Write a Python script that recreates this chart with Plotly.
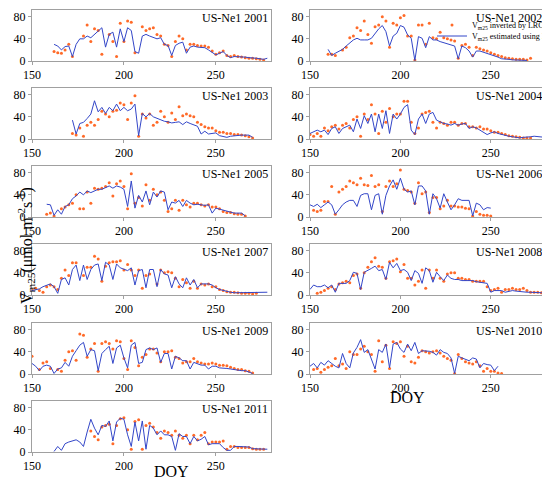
import plotly.graph_objects as go

# Vm25 series, one value every 2 days starting at first_doy[year]
# lrc = inverted by LRC (points), rf = estimated using RF (line)
first_doy = {2001: 162, 2002: 160, 2003: 172, 2004: 150, 2005: 158, 2006: 150,
             2007: 150, 2008: 150, 2009: 150, 2010: 150, 2011: 162}

rf_2001 = [30, 27, 20, 26, 27, 8, 30, 40, 40, 45, 42, 48, 55, 60, 25, 48, 52, 25, 58, 35,
           60, 55, 17, 14, 45, 48, 45, 42, 40, 42, 30, 28, 10, 28, 32, 34, 14, 25, 27, 25,
           25, 24, 20, 15, 11, 14, 17, 10, 6, 8, 8, 7, 7, 6, 6, 5, 4, 3, 5]
lrc_2001 = [17, 15, 14, 20, 30, 8, None, None, 45, 65, 35, 58, 55, 12, None, 48, 35, 8, 68, 35,
            72, 70, 15, None, 62, 55, 58, 60, 48, 45, 30, 28, 8, 35, 45, 40, 20, 30, 30, 28,
            27, 27, 25, 18, 12, 15, 18, 10, 8, 10, 8, 7, 6, 5, 5, 4, 3, 2, None]

rf_2002 = [21, 10, 14, 18, 21, 27, 32, 38, 41, 38, 38, 38, 41, 50, 58, 64, 53, 27, 45, 50,
           64, 61, 47, 41, 1, 44, 41, 24, 44, 38, 38, 35, 33, 30, 28, 27, 4, 27, 24, 18,
           7, 18, 18, 16, 14, 12, 10, 7, 4, 4, 3, 2, 2, 2, 2, 1, None]
lrc_2002 = [12, 12, 10, None, 20, 25, 42, 45, 60, 55, 72, 48, 32, 62, 65, 80, 72, 25, 68, 65,
            78, 82, 45, 45, 2, 65, 65, 30, 68, 42, 40, 52, 42, 40, 38, 36, 5, 28, 30, 25,
            10, 25, 22, 20, 18, 15, 12, 10, 8, 6, 5, 4, 3, 3, 3, 2, 5]

rf_2003 = [34, 9, 28, 30, 37, 45, 69, 49, 57, 46, 57, 51, 63, 51, 57, 51, 54, 63, 6, 46,
           40, 46, 40, 37, 34, 32, 31, 29, 30, 31, 26, 31, 28, 26, 23, 9, 14, 9, 10, 11,
           6, 4, 3, 5, 6, 7, 7, 7, 7, 3]
lrc_2003 = [10, 7, 20, 5, 25, 30, 25, 35, 50, 45, 40, 50, 52, 65, 62, 35, 65, 78, 5, 45,
            38, 45, 25, 30, 50, 40, 30, 47, 35, 58, 42, 45, 42, 40, 30, 26, 22, 20, 20, 15,
            12, 12, 10, 10, 8, 8, 7, 6, 4, 2]

rf_2004 = [10, 13, 16, 13, 16, 8, 19, 22, 10, 19, 22, 25, 13, 36, 19, 42, 28, 45, 13, 45,
           19, 51, 10, 45, 36, 45, 57, 62, 16, 8, 36, 45, 28, 45, 48, 34, 31, 28, 27, 25,
           28, 25, 27, 28, 19, 22, 20, 16, 13, 8, 11, 13, 10, 8, 7, 5, 4, 3, 2, 3,
           3, 4, 5, 4, 3, 3]
lrc_2004 = [8, 5, 10, 5, 20, 15, 22, 25, 18, 25, 28, 20, 35, 40, 5, 45, 35, 62, 45, 10,
            50, 30, 55, 40, 45, 45, 68, 68, 30, 10, 20, 45, 48, 50, 30, 20, 30, 28, 25, 30,
            30, 25, 28, 28, 22, 22, 20, 22, 18, 18, 15, 12, 12, 10, 8, 6, 5, 4, 3, 2,
            2, 2, None, None, None, None]

rf_2005 = [23, 22, 3, 13, 5, 19, 22, 33, 38, 45, 40, 47, 44, 47, 50, 50, 53, 56, 52, 56,
           54, 50, 19, 65, 16, 39, 27, 47, 22, 45, 36, 47, 45, 13, 27, 25, 30, 19, 30, 25,
           22, 23, 22, 21, 22, 7, 16, 14, 13, 10, 9, 7, 7, 7, 2]
lrc_2005 = [5, 7, 2, None, 15, 18, 22, 25, 40, 15, 15, 45, 25, 52, 50, 52, 55, 62, 38, 60,
            65, 55, 15, 78, 25, 35, 20, 58, 30, 50, 40, 45, 30, 10, 15, 30, 12, 30, 22, 18,
            25, 25, 22, 20, 22, 18, 18, 15, 10, 8, 8, 6, 5, 5, 2]

rf_2006 = [22, 19, 23, 17, 22, 27, 22, 5, 13, 22, 27, 30, 30, 19, 39, 42, 42, 13, 39, 42,
           5, 39, 56, 67, 50, 70, 50, 45, 47, 22, 56, 56, 47, 5, 42, 33, 16, 42, 27, 13,
           22, 33, 30, 30, 30, 2, 25, 22, 13, 17, 16]
lrc_2006 = [None, 12, 10, 12, 28, 28, 55, 5, 45, 50, 55, 65, 62, 58, 70, 58, 57, 75, 55, 58,
            10, 55, 65, 55, 60, 85, 50, 48, 45, 25, 62, 42, 45, 8, 35, 35, 15, 20, 30, 20,
            20, 18, 18, 16, 15, 2, 10, 5, 3, 3, 2]

rf_2007 = [8, 9, 11, 15, 18, 20, 15, 3, 28, 31, 18, 46, 54, 26, 54, 28, 46, 54, 56, 26,
           59, 54, 28, 56, 49, 46, 44, 49, 18, 44, 46, 13, 46, 46, 15, 46, 38, 36, 13, 33,
           20, 13, 31, 18, 28, 13, 20, 20, 20, 18, 13, 10, 8, 6, 5, 4, 4, 4, 4, 4,
           4, 5, 5, 5, 5]
lrc_2007 = [10, 12, 8, 5, 15, 18, 15, 10, 30, 45, 35, 58, 58, None, 35, 50, 50, 70, 65, 25,
            52, 58, 60, 60, 62, 45, 55, 45, 35, 45, 12, 35, 38, None, 20, 45, 40, 42, 40, 30,
            15, 28, 22, 12, 25, 12, 20, 18, 20, 15, 15, 10, 8, 6, 5, 5, 4, 3, 3, 3,
            2, 3, None, None, None]

rf_2008 = [10, 18, 15, 15, 18, 13, 18, 5, 21, 21, 21, 26, 41, 39, 10, 41, 44, 48, 52, 44,
           46, 28, 59, 49, 57, 44, 46, 41, 26, 44, 39, 21, 49, 44, 23, 41, 33, 26, 36, 30,
           28, 28, 26, 26, 26, 26, 24, 23, 22, 21, 5, 8, 8, 8, 5, 7, 8, 7, 6, 6,
           5, 5, 5, 4, 4, 3]
lrc_2008 = [None, None, 3, 5, 8, 12, 15, 10, 20, 22, 25, 22, 35, 38, 12, 40, 50, 60, 67, 52,
            50, 30, 60, 62, 65, 42, 55, 30, 30, 18, 25, 45, 12, 45, 30, 45, 30, 25, 38, 40,
            40, 30, 30, 28, 28, 25, 25, 25, 25, 15, 8, 10, 12, 5, 10, 10, 12, 10, 10, 12,
            8, 5, 5, 5, 4, 3]

rf_2009 = [19, 14, 6, 14, 16, 14, 1, 9, 11, 21, 14, 32, 42, 52, 57, 32, 44, 42, 6, 37,
           44, 50, 19, 47, 52, 29, 11, 52, 57, 19, 21, 44, 47, 44, 47, 21, 37, 37, 9, 32,
           29, 24, 24, 9, 21, 18, 16, 16, 9, 14, 14, 11, 11, 10, 9, 8, 6, 6, 6, 3, 1]
lrc_2009 = [32, None, 8, 20, 22, 10, None, 8, 5, 25, 40, 42, 25, 72, 70, 30, 45, 55, 5, 55,
            58, 55, 45, 60, 58, 28, 8, 60, 48, 15, 30, 35, 45, 45, 38, 22, 40, 40, 42, 30,
            28, 20, 22, 22, 28, 22, 20, 18, 18, 20, 18, 16, 16, 15, 12, 10, 8, 8, 6, 5, 2]

rf_2010 = [14, 19, 11, 21, 16, 24, 19, 14, 11, 37, 19, 11, 38, 48, 62, 39, 44, 27, 9, 44,
           39, 54, 11, 54, 57, 45, 39, 54, 42, 57, 37, 42, 42, 41, 39, 34, 44, 39, 37, 29,
           1, 32, 29, 26, 24, 29, 27, 11, 19, 17, 16, 6, 14]
lrc_2010 = [None, 8, 10, 3, 8, 12, 15, 28, 15, 18, 10, 40, 35, 35, 45, 50, 40, 35, 5, 60,
            22, 52, 10, 58, 55, 58, 32, 50, 22, 20, 30, 42, 40, 38, 40, 42, 38, 32, 28, 25,
            1, 35, 28, 22, 20, 18, 22, 15, 5, 10, 5, 5, 2, 1]

rf_2011 = [1, 10, 3, 15, 18, 20, 22, 18, 10, 36, 59, 43, 31, 48, 46, 56, 20, 54, 61, 59,
           31, 10, 54, 20, 56, 5, 48, 43, 31, 38, 31, 31, 28, 3, 33, 28, 28, 15, 28, 20,
           23, 28, 13, 15, 15, 15, 8, 3, 3, 10, 10, 10, 9, 9, 6, 6, 6, 5, 5]
lrc_2011 = [None, None, None, None, None, None, None, None, None, None, 38, 28, 22, 45, 48, 50, 15, 48, 60, 62,
            40, 5, 55, 58, 5, 48, 52, 45, 35, 25, 38, 35, 30, 38, 30, 25, 30, 15, 30, 22,
            30, 35, 15, 18, 18, 18, 20, 5, 10, 10, 8, 8, 8, 8, 6, 5, 5, 5, None]

series = {2001: (lrc_2001, rf_2001), 2002: (lrc_2002, rf_2002), 2003: (lrc_2003, rf_2003),
          2004: (lrc_2004, rf_2004), 2005: (lrc_2005, rf_2005), 2006: (lrc_2006, rf_2006),
          2007: (lrc_2007, rf_2007), 2008: (lrc_2008, rf_2008), 2009: (lrc_2009, rf_2009),
          2010: (lrc_2010, rf_2010), 2011: (lrc_2011, rf_2011)}

left_years = [2001, 2003, 2005, 2007, 2009, 2011]
right_years = [2002, 2004, 2006, 2008, 2010]
x_ticks = [150, 200, 250]
y_ticks = [0, 40, 80]

# the page body adds an 8px margin, so the figure is laid out in window pixels minus 8
OFF = 8
W, H = 550 - OFF, 489 - OFF
ORANGE = '#ff6a28'
BLUE = '#3346c8'
FONT = 'Liberation Serif'
row_tops = [10, 88, 166, 244, 323, 401]   # window pixels
panel_h = 51
col_x = {'L': (32, 271), 'R': (310, 545)}


def px(v):
    return (v - OFF) / W


def py(v):
    return 1 - (v - OFF) / H


fig = go.Figure()
panels = [(y, 'L', i) for i, y in enumerate(left_years)] + [(y, 'R', i) for i, y in enumerate(right_years)]

for n, (year, col, row) in enumerate(panels, start=1):
    lrc, rf = series[year]
    doy_l = [first_doy[year] + 2 * k for k in range(len(lrc))]
    doy_r = [first_doy[year] + 2 * k for k in range(len(rf))]
    xa = 'x' if n == 1 else f'x{n}'
    ya = 'y' if n == 1 else f'y{n}'
    show = year == 2002
    fig.add_trace(go.Scatter(x=doy_l, y=lrc, mode='markers', xaxis=xa, yaxis=ya,
                             marker=dict(color=ORANGE, size=3), legend='legend',
                             name='V<sub>m25</sub> inverted by LRC', showlegend=show))
    fig.add_trace(go.Scatter(x=doy_r, y=rf, mode='lines', xaxis=xa, yaxis=ya,
                             line=dict(color=BLUE, width=1), legend='legend2',
                             name='V<sub>m25</sub> estimated using RF', showlegend=show))

    x0, x1 = col_x[col]
    top = row_tops[row]
    xkey = 'xaxis' if n == 1 else f'xaxis{n}'
    ykey = 'yaxis' if n == 1 else f'yaxis{n}'
    axis_common = dict(showline=True, mirror=True, linecolor='#a0a0a0', linewidth=1,
                       showgrid=False, zeroline=False, ticks='outside', ticklen=3,
                       tickcolor='#a0a0a0', automargin=False, ticklabeloverflow='allow',
                       tickfont=dict(family=FONT, size=12, color='black'))
    fig.update_layout({
        xkey: dict(domain=[px(x0), px(x1)], range=[150, 280], tickvals=x_ticks,
                   anchor=ya, **axis_common),
        ykey: dict(domain=[py(top + panel_h), py(top)], range=[0, 92],
                   tickvals=y_ticks, anchor=xa, **axis_common),
    })
    fig.add_annotation(text=f'US-Ne1 {year}', xref=f'{xa} domain', yref=f'{ya} domain',
                       x=0.995, y=1.0, yshift=1, xanchor='right', yanchor='top', showarrow=False,
                       font=dict(family=FONT, size=12, color='black'))

fig.add_annotation(text='V<sub>m25</sub>(μmol m<sup>-2</sup>s<sup>-1</sup>)', xref='paper', yref='paper',
                   x=px(13), y=py(246), textangle=-90, showarrow=False,
                   font=dict(family=FONT, size=16, color='black'))
fig.add_annotation(text='DOY', xref='paper', yref='paper', x=px(152), y=py(482),
                   showarrow=False, font=dict(family=FONT, size=16, color='black'))
fig.add_annotation(text='DOY', xref='paper', yref='paper', x=px(427), y=py(408),
                   showarrow=False, font=dict(family=FONT, size=16, color='black'))

legend_style = dict(xanchor='left', yanchor='middle', bgcolor='rgba(0,0,0,0)',
                    font=dict(family=FONT, size=8, color='black'), itemwidth=30)
fig.update_layout(
    width=W, height=H,
    margin=dict(l=0, r=0, t=0, b=0, autoexpand=False),
    paper_bgcolor='white', plot_bgcolor='white',
    legend=dict(x=px(432), y=py(25), **legend_style),
    legend2=dict(x=px(432), y=py(36), **legend_style),
)

fig.write_html("out.html")
